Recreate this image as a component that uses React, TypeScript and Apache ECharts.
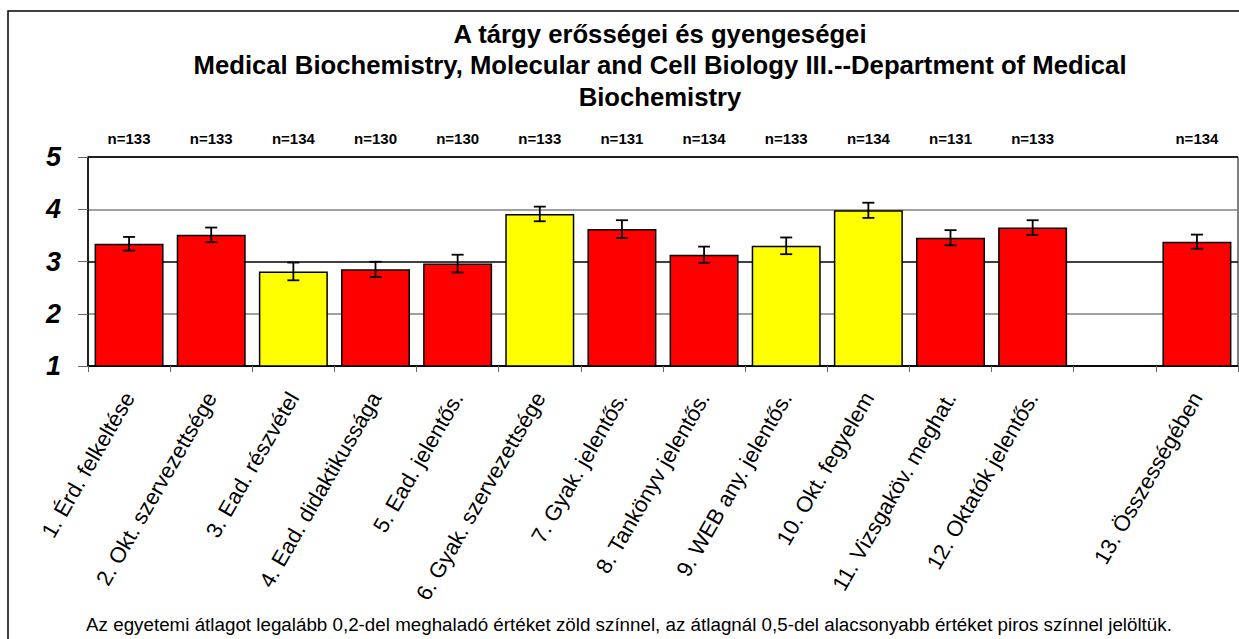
import React, { useEffect, useRef } from "react";
import * as echarts from "echarts";

const categories = [
  "1. Érd. felkeltése",
  "2. Okt. szervezettsége",
  "3. Ead. részvétel",
  "4. Ead. didaktikussága",
  "5. Ead. jelentős.",
  "6. Gyak. szervezettsége",
  "7. Gyak. jelentős.",
  "8. Tankönyv jelentős.",
  "9. WEB any. jelentős.",
  "10. Okt. fegyelem",
  "11. Vizsgaköv. meghat.",
  "12. Oktatók jelentős.",
  "",
  "13. Összességében",
];
const means: (number | null)[] = [3.34, 3.51, 2.81, 2.85, 2.96, 3.91, 3.62, 3.13, 3.3, 3.98, 3.455, 3.65, null, 3.38];
const errors: (number | null)[] = [0.13, 0.14, 0.17, 0.145, 0.17, 0.14, 0.17, 0.155, 0.16, 0.145, 0.145, 0.14, null, 0.135];
const counts = ["n=133", "n=133", "n=134", "n=130", "n=130", "n=133", "n=131", "n=134", "n=133", "n=134", "n=131", "n=133", "", "n=134"];
// "low" = red (below average), "mid" = yellow
const status = ["low", "low", "mid", "low", "low", "mid", "low", "low", "mid", "mid", "low", "low", "", "low"];
const yTicks = [1, 2, 3, 4, 5];

const titleLines = [
  "A tárgy erősségei és gyengeségei",
  "Medical Biochemistry, Molecular and Cell Biology III.--Department of Medical",
  "Biochemistry",
];
const note =
  "Az egyetemi átlagot legalább 0,2-del meghaladó értéket zöld színnel, az átlagnál 0,5-del alacsonyabb értéket piros színnel jelöltük.";

const FONT = "Arial, 'Liberation Sans', Helvetica, sans-serif";

export default function App() {
  const ref = useRef<HTMLDivElement>(null);
  useEffect(() => {
    if (!ref.current) return;
    const chart = echarts.init(ref.current, null, { renderer: "svg" });
    const colorMap: Record<string, string> = { low: "#FF0000", mid: "#FFFF00" };
    const barData = means.map((v, i) =>
      v == null ? null : { value: v, itemStyle: { color: colorMap[status[i]] } }
    );
    const errData = means
      .map((v, i) => (v == null || errors[i] == null ? null : [i, v - (errors[i] as number), v + (errors[i] as number)]))
      .filter((d) => d != null);

    chart.setOption({
      animation: false,
      backgroundColor: "#fff",
      textStyle: { fontFamily: FONT },
      title: {
        text: titleLines.join("\n"),
        left: 660,
        top: 18,
        padding: 0,
        textAlign: "center",
        textStyle: { fontFamily: FONT, fontWeight: "bold", fontSize: 25.7, lineHeight: 31.5, color: "#000" },
      },
      graphic: [
        {
          type: "rect",
          shape: { x: 8, y: 11, width: 1260, height: 660 },
          style: { fill: "none", stroke: "#000", lineWidth: 1.5 },
          silent: true,
          z: -10,
        },
        {
          type: "text",
          x: 629,
          y: 624,
          style: {
            text: note,
            fontFamily: FONT,
            fontSize: 18.8,
            fill: "#000",
            align: "center",
            verticalAlign: "middle",
          },
        },
      ],
      grid: {
        left: 88,
        right: 1,
        top: 157,
        bottom: 273,
        show: true,
        borderColor: "#000",
        borderWidth: 1,
        backgroundColor: "transparent",
      },
      xAxis: [
        {
          type: "category",
          data: categories,
          position: "bottom",
          boundaryGap: true,
          axisLine: { show: true, lineStyle: { color: "#000", width: 1.5 } },
          axisTick: { show: true, length: 6, lineStyle: { color: "#666" } },
          axisLabel: {
            interval: 0,
            rotate: 60,
            margin: 28,
            fontFamily: FONT,
            fontSize: 22,
            color: "#000",
          },
        },
        {
          type: "category",
          data: counts,
          position: "top",
          axisLine: { show: false },
          axisTick: { show: false },
          axisLabel: {
            interval: 0,
            margin: 11,
            fontFamily: FONT,
            fontSize: 15,
            fontWeight: "bold",
            color: "#000",
          },
        },
      ],
      yAxis: {
        type: "value",
        min: yTicks[0],
        max: yTicks[yTicks.length - 1],
        interval: 1,
        axisLine: { show: true, lineStyle: { color: "#000", width: 1.5 } },
        axisTick: { show: true, length: 10, lineStyle: { color: "#666" } },
        axisLabel: {
          margin: 27,
          fontFamily: FONT,
          fontSize: 27,
          fontWeight: "bold",
          fontStyle: "italic",
          color: "#000",
        },
        splitLine: {
          show: true,
          lineStyle: { color: ["#000", "#808080", "#000", "#808080", "#000"], width: 1.5 },
        },
      },
      series: [
        {
          type: "bar",
          xAxisIndex: 0,
          data: barData,
          barCategoryGap: "16%",
          itemStyle: { borderColor: "#000", borderWidth: 1.5 },
          z: 2,
        },
        {
          type: "custom",
          xAxisIndex: 0,
          data: errData,
          encode: { x: 0, y: [1, 2] },
          z: 3,
          renderItem: (params: any, api: any) => {
            const x = api.value(0);
            const lo = api.coord([x, api.value(1)]);
            const hi = api.coord([x, api.value(2)]);
            const hw = 6;
            const style = { stroke: "#000", lineWidth: 1.8 };
            return {
              type: "group",
              children: [
                { type: "line", shape: { x1: hi[0], y1: hi[1], x2: lo[0], y2: lo[1] }, style },
                { type: "line", shape: { x1: hi[0] - hw, y1: hi[1], x2: hi[0] + hw, y2: hi[1] }, style },
                { type: "line", shape: { x1: lo[0] - hw, y1: lo[1], x2: lo[0] + hw, y2: lo[1] }, style },
              ],
            };
          },
        },
      ],
    });
    return () => chart.dispose();
  }, []);
  return (
    <div
      ref={ref}
      style={{ position: "fixed", left: 0, top: 0, width: 1239, height: 639, background: "#fff" }}
    />
  );
}
